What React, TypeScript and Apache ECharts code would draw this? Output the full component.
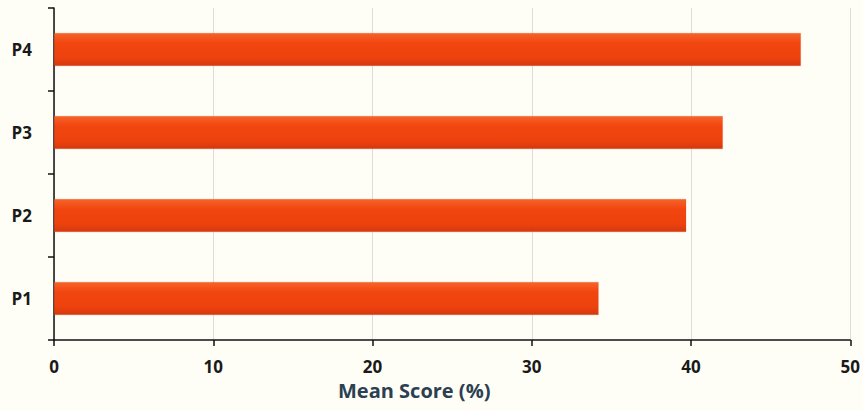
import React, { useEffect, useRef } from "react";
import * as echarts from "echarts";

const categories = ["P1", "P2", "P3", "P4"];
const meanScores = [34.2, 39.7, 42.0, 46.9];
const xTicks = { min: 0, max: 50, interval: 10 };
const axisTitle = "Mean Score (%)";

export default function App() {
  const ref = useRef<HTMLDivElement>(null);
  useEffect(() => {
    if (!ref.current) return;
    const chart = echarts.init(ref.current, null, { renderer: "svg" });
    const font = "'Open Sans', Lato, sans-serif";
    chart.setOption({
      animation: false,
      backgroundColor: "#fffef6",
      grid: { left: 54, right: 9, top: 8, bottom: 71 },
      xAxis: {
        type: "value",
        min: xTicks.min,
        max: xTicks.max,
        interval: xTicks.interval,
        axisLine: { show: true, lineStyle: { color: "#111", width: 1.5 } },
        axisTick: { show: true, length: 6, lineStyle: { color: "#111", width: 1.5 } },
        axisLabel: { margin: 18, color: "#1a1a1a", fontSize: 17, fontWeight: "bold", fontFamily: font },
        splitLine: { show: true, lineStyle: { color: "#dcdcd8", width: 1 } },
      },
      yAxis: {
        type: "category",
        data: categories,
        axisLine: { show: true, lineStyle: { color: "#111", width: 1.5 } },
        axisTick: { show: true, length: 6, lineStyle: { color: "#111", width: 1.5 } },
        axisLabel: { margin: 22, color: "#1a1a1a", fontSize: 17, fontWeight: "bold", fontFamily: font },
        splitLine: { show: false },
      },
      graphic: [
        {
          type: "text",
          left: 338,
          top: 380,
          style: {
            text: axisTitle,
            fill: "#2b4052",
            font: `bold 20px ${font}`,
          },
        },
      ],
      series: [
        {
          type: "bar",
          data: meanScores,
          barWidth: "40%",
          itemStyle: {
            color: new echarts.graphic.LinearGradient(0, 0, 0, 1, [
              { offset: 0, color: "#f6642a" },
              { offset: 0.3, color: "#f24610" },
              { offset: 0.75, color: "#ee420e" },
              { offset: 1, color: "#d4380e" },
            ]),
            borderColor: "rgba(200,60,20,0.35)",
            borderWidth: 0.5,
          },
        },
      ],
    });
    return () => chart.dispose();
  }, []);
  return <div ref={ref} style={{ width: 863, height: 411, position: "absolute", left: 0, top: 0 }} />;
}
